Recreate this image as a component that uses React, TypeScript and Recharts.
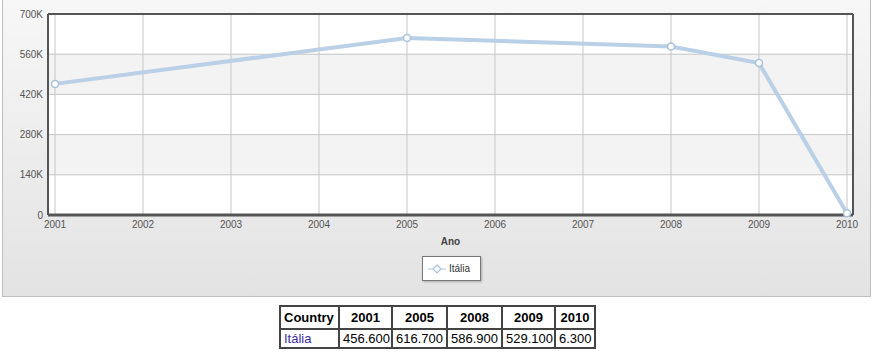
import { LineChart, Line, XAxis, YAxis, CartesianGrid } from 'recharts';

const years = [2001, 2005, 2008, 2009, 2010];
const italia = [456600, 616700, 586900, 529100, 6300];
const yearTicks = [2001, 2002, 2003, 2004, 2005, 2006, 2007, 2008, 2009, 2010];
const valueTicks = [0, 140000, 280000, 420000, 560000, 700000];
const seriesName = 'Itália';
const xTitle = 'Ano';

const data = years.map((y, i) => ({ ano: y, valor: italia[i] }));

const fmtK = (v: number) => (v === 0 ? '0' : `${v / 1000}K`);
const fmtTable = (v: number) =>
  v >= 1000 ? `${Math.floor(v / 1000)}.${String(v % 1000).padStart(3, '0')}` : String(v);

const font = '"Liberation Sans", Arial, sans-serif';
const frame = { stroke: '#555', strokeWidth: 2 };

const colW = [59, 53, 55, 55, 53, 40];

export default function App() {
  const cell = {
    border: '2px solid #444',
    padding: '1px 3px',
    fontFamily: font,
    fontSize: 13,
    color: '#000',
  } as const;

  return (
    <div style={{ position: 'absolute', left: 0, top: 0, width: 880, height: 360, background: '#fff', overflow: 'hidden' }}>
      <div
        style={{
          position: 'absolute',
          left: 2,
          top: -1,
          width: 869,
          height: 298,
          boxSizing: 'border-box',
          border: '1px solid #bdbdbd',
          background: 'linear-gradient(#f7f7f7, #e3e3e3)',
        }}
      />
      <div style={{ position: 'absolute', left: 0, top: 0 }}>
        <LineChart width={880} height={300} data={data} margin={{ top: 13, right: 26, left: 0, bottom: 55 }}>
          <CartesianGrid stroke="#c6c6c6" horizontalFill={['#ffffff', '#f3f3f3']} fillOpacity={1} />
          <XAxis
            dataKey="ano"
            type="number"
            domain={[2001, 2010]}
            ticks={yearTicks}
            interval={0}
            padding={{ left: 7, right: 6 }}
            height={30}
            tickLine={false}
            tickSize={4}
            tickMargin={2}
            axisLine={{ stroke: '#555', strokeWidth: 3 }}
            tick={{ fontSize: 10, fontFamily: font, fill: '#555' }}
          />
          <XAxis
            xAxisId="top"
            orientation="top"
            dataKey="ano"
            type="number"
            domain={[2001, 2010]}
            height={1}
            tick={false}
            tickLine={false}
            axisLine={frame}
          />
          <YAxis
            type="number"
            domain={[0, 700000]}
            ticks={valueTicks}
            width={48}
            tickLine={false}
            tickSize={3}
            tickMargin={2}
            axisLine={frame}
            tickFormatter={fmtK}
            tick={{ fontSize: 10, fontFamily: font, fill: '#555' }}
          />
          <YAxis
            yAxisId="right"
            orientation="right"
            type="number"
            domain={[0, 700000]}
            width={1}
            tick={false}
            tickLine={false}
            axisLine={frame}
          />
          <Line
            type="linear"
            dataKey="valor"
            name={seriesName}
            stroke="#bad0e6"
            strokeWidth={4}
            dot={{ r: 3.5, fill: '#fff', stroke: '#a9c3dc', strokeWidth: 1.5 }}
            isAnimationActive={false}
          />
        </LineChart>
      </div>
      <div
        style={{
          position: 'absolute',
          left: 0,
          width: 901,
          top: 236,
          textAlign: 'center',
          fontFamily: font,
          fontSize: 10,
          fontWeight: 'bold',
          color: '#444',
        }}
      >
        {xTitle}
      </div>
      <div
        style={{
          position: 'absolute',
          left: 422,
          top: 256,
          width: 59,
          height: 25,
          boxSizing: 'border-box',
          background: '#fff',
          border: '1px solid #777',
          boxShadow: '1px 1px 2px rgba(0,0,0,0.25)',
          display: 'flex',
          alignItems: 'center',
          fontFamily: font,
          fontSize: 10,
          color: '#333',
        }}
      >
        <svg width={20} height={12} style={{ marginLeft: 4, marginRight: 2 }}>
          <line x1={1} y1={6} x2={19} y2={6} stroke="#d3e2f0" strokeWidth={2} />
          <path d="M10 2 L14 6 L10 10 L6 6 Z" fill="#fff" stroke="#a9c3dc" strokeWidth={1.2} />
        </svg>
        <span>{seriesName}</span>
      </div>
      <table
        style={{
          position: 'absolute',
          left: 279,
          top: 305,
          borderCollapse: 'collapse',
          border: '2px solid #444',
          tableLayout: 'fixed',
          width: 315,
        }}
      >
        <colgroup>
          {colW.map((w, i) => (
            <col key={i} style={{ width: w }} />
          ))}
        </colgroup>
        <tbody>
          <tr style={{ height: 23 }}>
            <th style={{ ...cell, fontWeight: 'bold', textAlign: 'left' }}>Country</th>
            {years.map((y) => (
              <th key={y} style={{ ...cell, fontWeight: 'bold', textAlign: 'center' }}>
                {y}
              </th>
            ))}
          </tr>
          <tr style={{ height: 19 }}>
            <td style={{ ...cell, color: '#3b2f9e', textAlign: 'left' }}>{seriesName}</td>
            {italia.map((v, i) => (
              <td key={i} style={{ ...cell, textAlign: 'left', whiteSpace: 'nowrap' }}>
                {fmtTable(v)}
              </td>
            ))}
          </tr>
        </tbody>
      </table>
    </div>
  );
}
